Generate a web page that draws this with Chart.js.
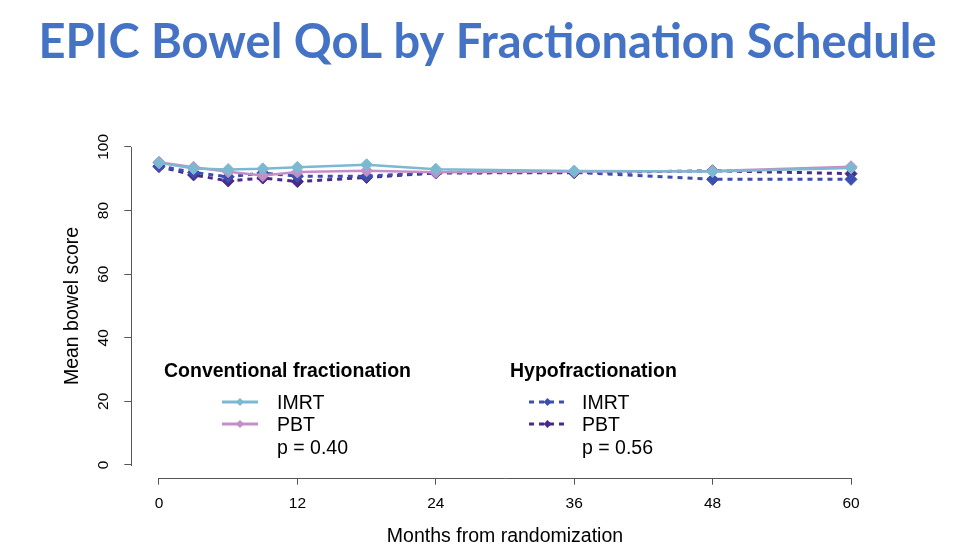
<!DOCTYPE html>
<html>
<head>
<meta charset="utf-8">
<script src="https://cdn.jsdelivr.net/npm/chart.js@4.4.1/dist/chart.umd.min.js"></script>
<style>
  html, body { margin: 0; padding: 0; background: #ffffff; }
  #wrap { width: 960px; height: 560px; position: relative; }
</style>
</head>
<body>
<div id="wrap"><canvas id="c" width="960" height="560"></canvas></div>
<script>
// ---- data ----
const titleText = 'EPIC Bowel QoL by Fractionation Schedule';
const months = [0, 3, 6, 9, 12, 18, 24, 36, 48, 60];
const convIMRT = [95.0, 93.2, 92.9, 93.1, 93.6, 94.4, 93.0, 92.4, 92.3, 93.4];
const convPBT  = [95.2, 93.6, 92.2, 91.0, 92.1, 92.5, 92.0, 92.3, 92.4, 93.8];
const hypoIMRT = [94.0, 92.0, 90.6, 91.8, 90.8, 90.8, 92.0, 92.0, 89.8, 89.8];
const hypoPBT  = [93.8, 91.2, 89.3, 90.2, 89.1, 90.4, 91.8, 91.9, 92.5, 91.6];
const xTicks = [0, 12, 24, 36, 48, 60];
const yTicks = [0, 20, 40, 60, 80, 100];
const seriesNames = ['IMRT', 'PBT'];
const groupNames = ['Conventional fractionation', 'Hypofractionation'];
const pValues = ['p = 0.40', 'p = 0.56'];
const xTitle = 'Months from randomization';
const yTitle = 'Mean bowel score';

const C_CONV_IMRT = '#7db8d1';
const C_CONV_PBT = '#c48fc9';
const C_HYPO_IMRT = '#3d4fae';
const C_HYPO_PBT = '#4a2b88';
const AXIS = '#555555';
const FONT = '"Liberation Sans", Arial, sans-serif';

function pts(arr) { return months.map((m, i) => ({ x: m, y: arr[i] })); }

function ds(label, arr, color, dashed, group) {
  return {
    label: label,
    data: pts(arr),
    borderColor: color,
    backgroundColor: color,
    borderWidth: dashed ? 3 : 2.5,
    borderDash: dashed ? [5, 5] : [],
    pointStyle: 'rectRot',
    pointRadius: 6,
    pointBorderWidth: 1,
    pointBackgroundColor: color,
    pointBorderColor: color,
    tension: 0,
    group: group
  };
}

const datasets = [
  ds(seriesNames[0], convIMRT, C_CONV_IMRT, false, 0),
  ds(seriesNames[1], convPBT, C_CONV_PBT, false, 0),
  ds(seriesNames[0], hypoIMRT, C_HYPO_IMRT, true, 1),
  ds(seriesNames[1], hypoPBT, C_HYPO_PBT, true, 1)
];

// R-style axis lines spanning first to last tick
const axisLines = {
  id: 'axisLines',
  afterDraw(chart) {
    const ctx = chart.ctx;
    const xs = chart.scales.x, ys = chart.scales.y;
    const ca = chart.chartArea;
    ctx.save();
    ctx.strokeStyle = AXIS;
    ctx.lineWidth = 1;
    ctx.beginPath();
    ctx.moveTo(Math.round(xs.getPixelForValue(xTicks[0])), Math.round(ca.bottom) + 0.5);
    ctx.lineTo(Math.round(xs.getPixelForValue(xTicks[xTicks.length - 1])) + 1, Math.round(ca.bottom) + 0.5);
    ctx.moveTo(Math.round(ca.left) + 0.5, Math.round(ys.getPixelForValue(yTicks[0])) + 1);
    ctx.lineTo(Math.round(ca.left) + 0.5, Math.round(ys.getPixelForValue(yTicks[yTicks.length - 1])));
    ctx.stroke();
    ctx.restore();
  }
};

// Grouped legend with headers and p-values
const groupLegend = {
  id: 'groupLegend',
  afterDraw(chart) {
    const ctx = chart.ctx;
    const groupsX = [164, 510];
    const sampleX = [[222, 258], [529, 566]];
    const textX = [277, 582];
    const headY = 372;
    const rowY = [402, 424, 449];
    ctx.save();
    for (let g = 0; g < 2; g++) {
      ctx.fillStyle = '#000000';
      ctx.textBaseline = 'middle';
      ctx.textAlign = 'left';
      ctx.font = 'bold 19.5px ' + FONT;
      ctx.fillText(groupNames[g], groupsX[g], headY);
      const items = chart.data.datasets.filter(d => d.group === g);
      items.forEach((d, i) => {
        const y = rowY[i];
        ctx.strokeStyle = d.borderColor;
        ctx.lineWidth = 3;
        ctx.setLineDash(d.borderDash && d.borderDash.length ? [5, 5] : []);
        ctx.beginPath();
        ctx.moveTo(sampleX[g][0], y);
        ctx.lineTo(sampleX[g][1], y);
        ctx.stroke();
        ctx.setLineDash([]);
        const cx = (sampleX[g][0] + sampleX[g][1]) / 2;
        ctx.fillStyle = d.borderColor;
        ctx.beginPath();
        ctx.moveTo(cx, y - 4); ctx.lineTo(cx + 4, y); ctx.lineTo(cx, y + 4); ctx.lineTo(cx - 4, y);
        ctx.closePath();
        ctx.fill();
        ctx.fillStyle = '#000000';
        ctx.font = '19.5px ' + FONT;
        ctx.fillText(d.label, textX[g], y + 2);
      });
      ctx.fillStyle = '#000000';
      ctx.font = '19.5px ' + FONT;
      ctx.fillText(pValues[g], textX[g], rowY[2]);
    }
    ctx.restore();
  }
};

new Chart(document.getElementById('c'), {
  type: 'line',
  data: { datasets: datasets },
  options: {
    responsive: false,
    animation: false,
    devicePixelRatio: 1,
    layout: { padding: { left: 15, right: 0, top: 0, bottom: 0 } },
    plugins: {
      legend: { display: false },
      tooltip: { enabled: false },
      title: {
        display: true,
        text: titleText,
        color: '#4472c4',
        font: { family: 'Lato, "Open Sans", sans-serif', size: 47, weight: 'bold', lineHeight: 1.2 },
        padding: { top: 15, bottom: 62.8 }
      }
    },
    scales: {
      x: {
        type: 'linear',
        min: -2.4,
        max: 62.4,
        afterBuildTicks: s => { s.ticks = xTicks.map(v => ({ value: v })); },
        afterFit: s => { s.height = 82.3; },
        border: { display: false },
        grid: { display: true, drawOnChartArea: false, drawTicks: true, tickLength: 7, color: AXIS },
        ticks: {
          color: '#000000',
          padding: 10,
          font: { family: FONT, size: 15.5 },
          maxRotation: 0
        },
        title: {
          display: true,
          text: xTitle,
          color: '#000000',
          font: { family: FONT, size: 19.5 },
          padding: { top: 0, bottom: 11.5 }
        }
      },
      y: {
        type: 'linear',
        position: 'left',
        min: -4,
        max: 104,
        afterBuildTicks: s => { s.ticks = yTicks.map(v => ({ value: v })); },
        afterFit: s => { s.width = 116.3; },
        border: { display: false },
        grid: { display: true, drawOnChartArea: false, drawTicks: true, tickLength: 7, color: AXIS },
        ticks: {
          color: '#000000',
          padding: 8,
          minRotation: 90,
          maxRotation: 90,
          crossAlign: 'center',
          font: { family: FONT, size: 15.5 }
        },
        title: {
          display: true,
          text: yTitle,
          color: '#000000',
          font: { family: FONT, size: 19.5 },
          padding: { top: 46.3, bottom: 0 }
        }
      },
      yRight: {
        type: 'linear',
        position: 'right',
        display: true,
        min: -4,
        max: 104,
        afterFit: s => { s.width = 81.3; },
        border: { display: false },
        grid: { display: false, drawTicks: false },
        ticks: { display: false }
      }
    }
  },
  plugins: [axisLines, groupLegend]
});
</script>
</body>
</html>
